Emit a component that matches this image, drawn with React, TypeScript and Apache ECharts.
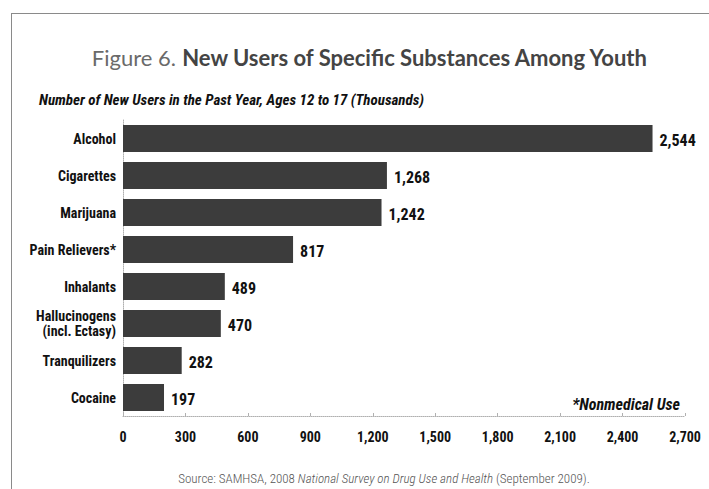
import React, { useEffect, useRef } from "react";
import * as echarts from "echarts";

const categories = [
  "Alcohol",
  "Cigarettes",
  "Marijuana",
  "Pain Relievers*",
  "Inhalants",
  "Hallucinogens\n(incl. Ectasy)",
  "Tranquilizers",
  "Cocaine",
];
const values = [2544, 1268, 1242, 817, 489, 470, 282, 197];
const axisMin = 0;
const axisMax = 2700;
const axisInterval = 300;

const titleLight = "Figure 6.";
const titleBold = "New Users of Specific Substances Among Youth";
const subtitle = "Number of New Users in the Past Year, Ages 12 to 17 (Thousands)";
const footnote = "*Nonmedical Use";
const sourcePre = "Source: SAMHSA, 2008 ";
const sourceItal = "National Survey on Drug Use and Health";
const sourcePost = " (September 2009).";

const NARROW = "'Roboto Condensed', 'Open Sans Condensed', 'Liberation Sans Narrow', 'DejaVu Sans Condensed', sans-serif";
const HUMAN = "Lato, 'Open Sans', 'Noto Sans', sans-serif";

const fmt = (v: number) => v.toLocaleString("en-US");

export default function App() {
  const ref = useRef<HTMLDivElement>(null);
  useEffect(() => {
    if (!ref.current) return;
    const chart = echarts.init(ref.current, null, { renderer: "svg" });
    chart.setOption({
      animation: false,
      backgroundColor: "#ffffff",
      title: [
        {
          text: `{a|${titleLight}} {b|${titleBold}}`,
          left: 365,
          textAlign: "center",
          top: 41,
          textStyle: {
            rich: {
              a: { fontFamily: HUMAN, fontSize: 22, fontWeight: "normal", color: "#6a6a6a" },
              b: { fontFamily: HUMAN, fontSize: 22, fontWeight: "bold", color: "#444444" },
            },
          },
        },
        {
          text: subtitle,
          left: 34,
          top: 87,
          textStyle: {
            fontFamily: NARROW,
            fontSize: 15,
            fontWeight: "bold",
            fontStyle: "italic",
            color: "#111111",
          },
        },
        {
          text: footnote,
          right: 24,
          top: 391,
          textStyle: {
            fontFamily: NARROW,
            fontSize: 16,
            fontWeight: "bold",
            fontStyle: "italic",
            color: "#111111",
          },
        },
        {
          text: `{n|${sourcePre}}{i|${sourceItal}}{n|${sourcePost}}`,
          left: 379,
          textAlign: "center",
          top: 467,
          textStyle: {
            fontWeight: "normal",
            rich: {
              n: { fontFamily: NARROW, fontSize: 13, fontWeight: 300, color: "#555555" },
              i: { fontFamily: NARROW, fontSize: 13, fontWeight: 300, fontStyle: "italic", color: "#555555" },
            },
          },
        },
      ],
      graphic: [
        {
          type: "line",
          shape: { x1: 11, y1: 13.5, x2: 709, y2: 13.5 },
          style: { stroke: "#8a8a8a", lineWidth: 1 },
        },
        {
          type: "line",
          shape: { x1: 11.5, y1: 13, x2: 11.5, y2: 489 },
          style: { stroke: "#8a8a8a", lineWidth: 1 },
        },
      ],
      grid: { left: 123, right: 24, top: 120, bottom: 73, containLabel: false },
      xAxis: {
        type: "value",
        min: axisMin,
        max: axisMax,
        interval: axisInterval,
        splitLine: { show: false },
        axisLine: { show: true, lineStyle: { color: "#b0b0b0", type: "dotted", width: 1 } },
        axisTick: { show: true, inside: true, length: 3, lineStyle: { color: "#b0b0b0" } },
        axisLabel: {
          margin: 14,
          fontFamily: NARROW,
          fontSize: 14,
          fontWeight: "bold",
          color: "#111111",
          formatter: (v: number) => fmt(v),
        },
      },
      yAxis: {
        type: "category",
        data: categories,
        inverse: true,
        axisLine: { show: true, lineStyle: { color: "#b0b0b0", type: "dotted", width: 1 } },
        axisTick: { show: false },
        axisLabel: {
          margin: 7,
          fontFamily: NARROW,
          fontSize: 14,
          fontWeight: "bold",
          color: "#111111",
          lineHeight: 15,
          padding: [3, 0, 0, 0],
        },
      },
      series: [
        {
          type: "bar",
          data: values,
          barCategoryGap: "27%",
          itemStyle: { color: "#3c3c3c" },
          label: {
            show: true,
            position: "right",
            distance: 7,
            fontFamily: NARROW,
            fontSize: 16,
            fontWeight: "bold",
            color: "#111111",
            offset: [0, 2],
            formatter: (p: any) => fmt(p.value),
          },
        },
      ],
    });
    return () => chart.dispose();
  }, []);
  return (
    <div
      ref={ref}
      style={{ width: 709, height: 489, position: "fixed", left: 0, top: 0 }}
    />
  );
}
